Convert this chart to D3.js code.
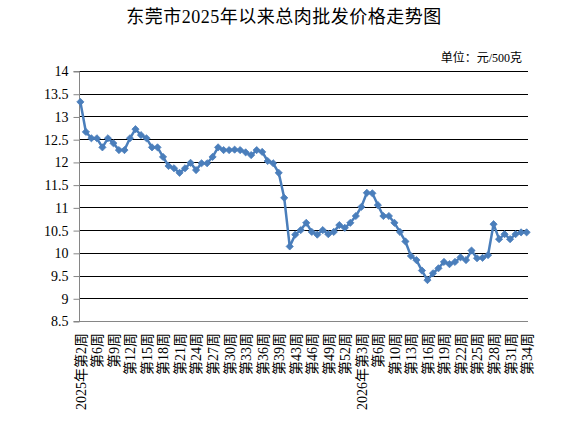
<!DOCTYPE html>
<html>
<head>
<meta charset="utf-8">
<script src="https://cdn.jsdelivr.net/npm/d3@7"></script>
<style>
  html, body { margin: 0; padding: 0; background: #fff; }
  svg { display: block; }
  text { font-family: "Liberation Serif", "Noto Sans CJK SC", serif; fill: #000; }
</style>
</head>
<body>
<svg id="chart" width="568" height="433"></svg>
<script>
// ---- data ----
const title = "东莞市2025年以来总肉批发价格走势图";
const unitLabel = "单位：元/500克";
const years = [2025,2025,2025,2025,2025,2025,2025,2025,2025,2025,
  2025,2025,2025,2025,2025,2025,2025,2025,2025,2025,
  2025,2025,2025,2025,2025,2025,2025,2025,2025,2025,
  2025,2025,2025,2025,2025,2025,2025,2025,2025,2025,
  2025,2025,2025,2025,2025,2025,2025,2025,2025,
  2026,2026,2026,2026,2026,2026,2026,2026,2026,2026,
  2026,2026,2026,2026,2026,2026,2026,2026,2026,2026,
  2026,2026,2026,2026,2026,2026,2026,2026,2026,2026,
  2026,2026,2026];
const weeks = [2,3,4,6,7,8,9,10,11,12,
  13,14,15,16,17,18,19,20,21,22,
  23,24,25,26,27,28,29,30,31,32,
  33,34,35,36,37,38,39,40,42,43,
  44,45,46,47,48,49,50,51,52,
  1,2,3,4,5,6,7,9,10,11,
  12,13,14,15,16,17,18,19,20,21,
  22,23,24,25,26,27,28,29,30,31,
  32,33,34];
const prices = [13.32,12.66,12.52,12.52,12.32,12.52,12.41,12.26,12.26,12.52,
  12.72,12.59,12.52,12.32,12.32,12.11,11.91,11.86,11.76,11.86,
  11.98,11.82,11.97,11.97,12.11,12.32,12.26,12.26,12.27,12.26,
  12.21,12.15,12.26,12.22,12.02,11.97,11.76,11.21,10.14,10.40,
  10.50,10.66,10.46,10.40,10.50,10.41,10.46,10.61,10.55,10.66,
  10.81,11.01,11.32,11.31,11.05,10.81,10.81,10.66,10.46,10.25,
  9.93,9.84,9.61,9.40,9.55,9.66,9.80,9.75,9.80,9.90,
  9.84,10.05,9.88,9.89,9.95,10.63,10.30,10.41,10.30,10.41,
  10.45,10.45];
const yTicks = [8.5,9,9.5,10,10.5,11,11.5,12,12.5,13,13.5,14];
const labelEvery = 3;

// ---- build ----
const tickIdx = d3.range(0, prices.length, labelEvery);
const seenYear = new Set();
const labels = {};
tickIdx.forEach(i => {
  const first = !seenYear.has(years[i]);
  seenYear.add(years[i]);
  labels[i] = (first ? years[i] + "年" : "") + "第" + weeks[i] + "周";
});
const data = prices.map((v, i) => ({ i, v }));

const svg = d3.select("#chart");
const L = 79, R = 528, T = 71, B = 321;

const x = d3.scalePoint().domain(d3.range(prices.length)).range([L, R]).padding(0.25);
const y = d3.scaleLinear().domain([8.5, 14]).range([B, T]);

// title
svg.append("text").attr("x", 284).attr("y", 17).attr("text-anchor", "middle")
  .attr("dominant-baseline", "central").style("font-size", "18px")
  .style("letter-spacing", "0.5px").text(title);
svg.append("text").attr("x", 522).attr("y", 58).attr("text-anchor", "end")
  .attr("dominant-baseline", "central").style("font-size", "12px").text(unitLabel);

// gridlines
svg.append("g").selectAll("line").data(yTicks.filter(t => t > 8.5)).join("line")
  .attr("x1", L).attr("x2", R).attr("y1", d => Math.round(y(d)) + 0.5).attr("y2", d => Math.round(y(d)) + 0.5)
  .attr("stroke", "#000").attr("stroke-width", 1);

// y axis
const yAxis = d3.axisLeft(y).tickValues(yTicks).tickSize(6).tickPadding(5).tickFormat(d3.format("~g"));
const gy = svg.append("g").attr("transform", `translate(${L + 0.5},0.5)`).call(yAxis);
gy.select(".domain").attr("stroke", "#868686").attr("d", `M-6,${B}H0V${T}H-6`);
gy.selectAll(".tick line").attr("stroke", "#868686");
gy.selectAll(".tick text").style("font-size", "14px").attr("fill", "#000")
  .style("font-family", "'Liberation Serif', serif");

// x axis line
svg.append("line").attr("x1", L).attr("x2", R).attr("y1", B + 0.5).attr("y2", B + 0.5)
  .attr("stroke", "#868686").attr("stroke-width", 1);

// x labels
const xAxis = d3.axisBottom(x).tickValues(tickIdx)
  .tickSize(0).tickFormat(i => labels[i]);
const gx = svg.append("g").attr("transform", `translate(0,${B})`).call(xAxis);
gx.select(".domain").remove();
gx.selectAll(".tick text")
  .attr("transform", "translate(0,12) rotate(-90)")
  .attr("x", 0).attr("y", 0).attr("dy", "0.35em")
  .attr("text-anchor", "end")
  .style("font-size", "14px").attr("fill", "#000");

// line
const line = d3.line().x(d => x(d.i)).y(d => y(d.v));
svg.append("path").datum(data).attr("d", line)
  .attr("fill", "none").attr("stroke", "#4A7EBB").attr("stroke-width", 2.5)
  .attr("stroke-linejoin", "round");

// markers
const r = 3.6;
svg.append("g").selectAll("path").data(data).join("path")
  .attr("transform", d => `translate(${x(d.i)},${y(d.v)})`)
  .attr("d", `M0,${-r}L${r},0L0,${r}L${-r},0Z`)
  .attr("fill", "#4A7EBB").attr("stroke", "#4A7EBB").attr("stroke-width", 0.8);
</script>
</body>
</html>
